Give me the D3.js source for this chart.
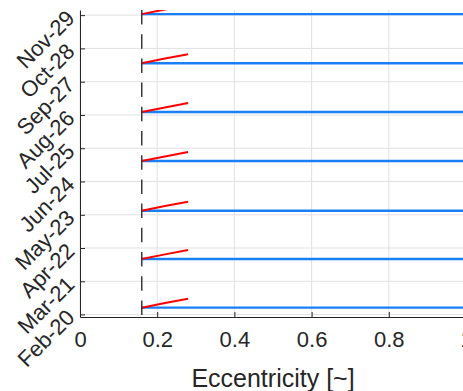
<!DOCTYPE html>
<html>
<head>
<meta charset="utf-8">
<script src="https://cdn.jsdelivr.net/npm/d3@7"></script>
<style>
  body { margin: 0; background: #fff; }
  svg { display: block; }
</style>
</head>
<body>
<svg id="drawing_region"></svg>
<script>
// dates where each orbit segment starts
const segmentDates = ["2020-04-21", "2021-11-21", "2023-06-19", "2025-01-30",
                      "2026-09-05", "2028-04-08", "2029-11-13"];
// blue: eccentricity sweep, red: short rise after the start
const blueEcc = [0.16, 1.05];
const blueDays = [0, 0];
const redEcc = [0.16, 0.22, 0.28];
const redDays = [0, 55, 107];
const startEcc = 0.16;

const xTicks = [0, 0.2, 0.4, 0.6, 0.8, 1];
const xTickLabels = ["0", "0.2", "0.4", "0.6", "0.8", "1"];
const yTickDates = ["2020-02-01", "2021-03-01", "2022-04-01", "2023-05-01", "2024-06-01",
                    "2025-07-01", "2026-08-01", "2027-09-01", "2028-10-01", "2029-11-01"];
const yTickLabels = ["Feb-20", "Mar-21", "Apr-22", "May-23", "Jun-24",
                     "Jul-25", "Aug-26", "Sep-27", "Oct-28", "Nov-29"];
const yDomain = ["2020-01-01", "2030-01-01"];

const width = 463, height = 391;
const margin = {top: 10, left: 80};
const innerW = 386, innerH = 307;
const font = "'Liberation Sans', Arial, Helvetica, sans-serif";
const textColor = "#262626";

const svg = d3.select("#drawing_region")
  .attr("width", width)
  .attr("height", height)
  .style("font-family", font);

const parse = d3.utcParse("%Y-%m-%d");
const DAY = 86400000;

const xscale = d3.scaleLinear().domain([0, 1]).range([0, innerW]);
const yscale = d3.scaleUtc().domain(yDomain.map(parse)).range([innerH, 0]);

const chart = svg.append("g")
  .attr("transform", `translate(${margin.left}, ${margin.top})`);

svg.append("defs").append("clipPath").attr("id", "clip")
  .append("rect").attr("x", 0).attr("y", 0).attr("width", innerW).attr("height", innerH);

// grid
chart.append("g").selectAll("line").data(xTicks).join("line")
  .attr("x1", d => xscale(d)).attr("x2", d => xscale(d))
  .attr("y1", 0).attr("y2", innerH)
  .attr("stroke", "#e1e1e1").attr("stroke-width", 1);
chart.append("g").selectAll("line").data(yTickDates).join("line")
  .attr("x1", 0).attr("x2", innerW)
  .attr("y1", d => yscale(parse(d))).attr("y2", d => yscale(parse(d)))
  .attr("stroke", "#e1e1e1").attr("stroke-width", 1);

const plot = chart.append("g").attr("clip-path", "url(#clip)");

const line = d3.line()
  .x(d => xscale(d[0]))
  .y(d => yscale(d[1]));

segmentDates.forEach(s => {
  const t0 = parse(s).getTime();
  plot.append("path")
    .datum(blueEcc.map((e, i) => [e, new Date(t0 + blueDays[i] * DAY)]))
    .attr("fill", "none").attr("stroke", "#1a7ff5").attr("stroke-width", 2.4)
    .attr("d", line);
});
segmentDates.forEach(s => {
  const t0 = parse(s).getTime();
  plot.append("path")
    .datum(redEcc.map((e, i) => [e, new Date(t0 + redDays[i] * DAY)]))
    .attr("fill", "none").attr("stroke", "#ff0000").attr("stroke-width", 2)
    .attr("d", line);
});

// start eccentricity marker
chart.append("line")
  .attr("x1", xscale(startEcc)).attr("x2", xscale(startEcc))
  .attr("y1", 0).attr("y2", innerH)
  .attr("stroke", "#3a3a3a").attr("stroke-width", 1.5)
  .attr("stroke-dasharray", "14.5,9.7");

// axes
const xaxis = d3.axisBottom(xscale).tickValues(xTicks)
  .tickFormat((d, i) => xTickLabels[i]).tickSizeInner(-5).tickSizeOuter(0).tickPadding(14);
const yaxis = d3.axisLeft(yscale).tickValues(yTickDates.map(parse))
  .tickFormat((d, i) => yTickLabels[i]).tickSizeInner(-5).tickSizeOuter(0);

const xg = chart.append("g").attr("transform", `translate(0, ${innerH})`).call(xaxis);
xg.select(".domain").attr("stroke", textColor);
xg.selectAll(".tick line").attr("stroke", textColor);
xg.selectAll(".tick text").attr("fill", textColor)
  .attr("font-size", "22px").attr("font-family", font);

const yg = chart.append("g").call(yaxis);
yg.select(".domain").attr("stroke", textColor);
yg.selectAll(".tick line").attr("stroke", textColor);
yg.selectAll(".tick text").attr("fill", textColor)
  .attr("font-size", "22px").attr("font-family", font)
  .attr("x", null).attr("dy", null)
  .attr("text-anchor", "end")
  .attr("transform", "translate(-4, 4) rotate(-45)");

svg.append("text")
  .attr("x", margin.left + innerW / 2).attr("y", 387)
  .attr("text-anchor", "middle")
  .attr("fill", textColor).attr("font-size", "25px")
  .text("Eccentricity [~]");
</script>
</body>
</html>
